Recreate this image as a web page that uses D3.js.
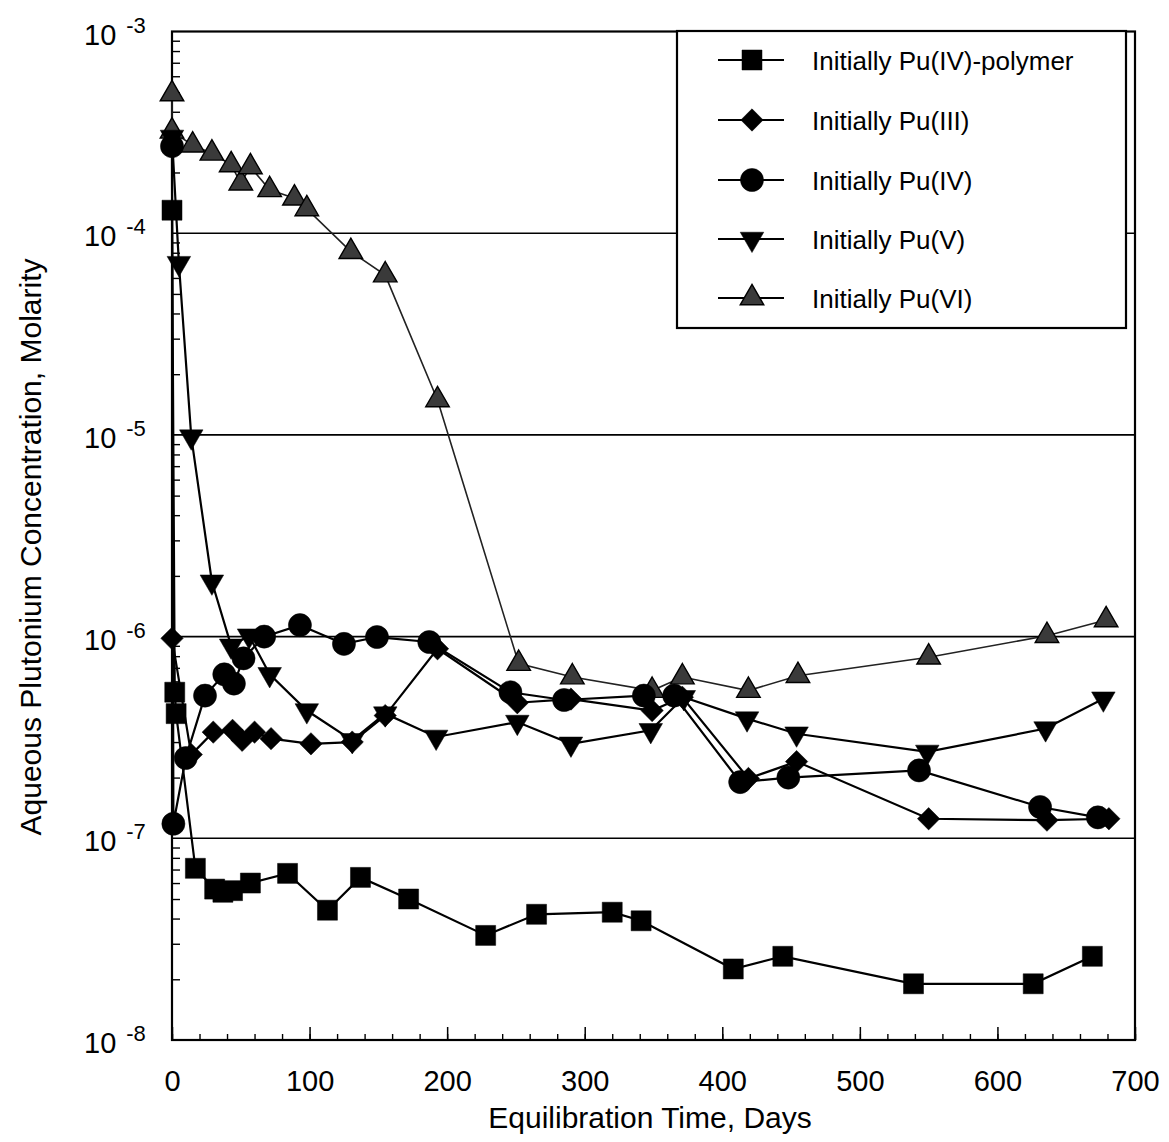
<!DOCTYPE html>
<html><head><meta charset="utf-8">
<script src="https://cdn.jsdelivr.net/npm/d3@7"></script>
<style>body{margin:0;background:#fff}</style>
</head><body>
<svg id="chart" width="1169" height="1142"></svg>
<script>
// ---- Data ----
const seriesNames = ["Initially Pu(IV)-polymer", "Initially Pu(III)", "Initially Pu(IV)", "Initially Pu(V)", "Initially Pu(VI)"];

const polymerDays = [0, 2, 3, 17, 31, 37, 44, 57, 84, 113, 137, 172, 228, 265, 320, 341, 408, 444, 539, 626, 669];
const polymerVals = [1.3e-4, 5.3e-7, 4.15e-7, 7.1e-8, 5.6e-8, 5.4e-8, 5.5e-8, 6.0e-8, 6.7e-8, 4.4e-8, 6.4e-8, 5.0e-8, 3.3e-8, 4.2e-8, 4.3e-8, 3.9e-8, 2.25e-8, 2.6e-8, 1.9e-8, 1.9e-8, 2.6e-8];

const pu3Days = [0, 14, 30, 44, 51, 60, 72, 101, 131, 155, 193, 251, 290, 349, 371, 419, 454, 550, 636, 681];
const pu3Vals = [9.8e-7, 2.6e-7, 3.36e-7, 3.43e-7, 3.06e-7, 3.36e-7, 3.12e-7, 2.94e-7, 3.0e-7, 4.06e-7, 8.7e-7, 4.7e-7, 4.9e-7, 4.3e-7, 5.0e-7, 1.98e-7, 2.4e-7, 1.25e-7, 1.23e-7, 1.25e-7];

const pu4Days = [0, 1, 10, 24, 38, 45, 52, 67, 93, 125, 149, 187, 246, 285, 343, 365, 413, 448, 543, 631, 673];
const pu4Vals = [2.7e-4, 1.18e-7, 2.5e-7, 5.1e-7, 6.5e-7, 5.85e-7, 7.8e-7, 1.0e-6, 1.14e-6, 9.2e-7, 9.95e-7, 9.4e-7, 5.3e-7, 4.85e-7, 5.1e-7, 5.1e-7, 1.9e-7, 2.0e-7, 2.17e-7, 1.43e-7, 1.27e-7];

const pu5Days = [0, 5, 14, 29, 43, 56, 71, 98, 131, 155, 192, 251, 290, 348, 372, 418, 454, 549, 635, 677];
const pu5Vals = [3.0e-4, 7.1e-5, 9.8e-6, 1.87e-6, 9.0e-7, 1.01e-6, 6.5e-7, 4.3e-7, 3.06e-7, 4.15e-7, 3.18e-7, 3.77e-7, 2.94e-7, 3.43e-7, 5.0e-7, 3.92e-7, 3.3e-7, 2.68e-7, 3.5e-7, 4.92e-7];

const pu6Days = [0, 0, 15, 29, 43, 50, 57, 71, 89, 98, 130, 155, 193, 252, 291, 349, 371, 419, 455, 550, 636, 679];
const pu6Vals = [4.9e-4, 3.2e-4, 2.73e-4, 2.49e-4, 2.18e-4, 1.77e-4, 2.13e-4, 1.64e-4, 1.49e-4, 1.32e-4, 8.1e-5, 6.2e-5, 1.49e-5, 7.35e-7, 6.3e-7, 5.4e-7, 6.3e-7, 5.4e-7, 6.4e-7, 7.9e-7, 1.01e-6, 1.21e-6];

const xTickValues = [0, 100, 200, 300, 400, 500, 600, 700];
const yDecadeExponents = [-3, -4, -5, -6, -7, -8];

const xTitle = "Equilibration Time, Days";
const yTitle = "Aqueous Plutonium Concentration, Molarity";

// ---- Setup ----
const svg = d3.select("#chart");
const L = 172, R = 1135, T = 31.5, B = 1040;
const x = d3.scaleLinear().domain([0, 700]).range([L, R]);
const y = d3.scaleLog().domain([1e-8, 1e-3]).range([B, T]);
const FONT = "'Liberation Sans', Arial, Helvetica, sans-serif";

// gridlines at decades
svg.append("g").selectAll("line").data([-4, -5, -6, -7]).join("line")
  .attr("x1", L).attr("x2", R)
  .attr("y1", d => y(Math.pow(10, d))).attr("y2", d => y(Math.pow(10, d)))
  .attr("stroke", "#000").attr("stroke-width", 1.6);

// minor y ticks
const minorY = [];
for (let e = -8; e < -3; e++) for (let k = 2; k <= 9; k++) minorY.push(k * Math.pow(10, e));
const yMinor = svg.append("g").attr("transform", `translate(${L},0)`)
  .call(d3.axisLeft(y).tickValues(minorY).tickSize(-8).tickFormat(""));
yMinor.select(".domain").remove();
yMinor.selectAll("line").attr("stroke", "#000").attr("stroke-width", 1.4);

// x ticks
const xMinor = svg.append("g").attr("transform", `translate(0,${B})`)
  .call(d3.axisBottom(x).tickValues(d3.range(0, 701, 20)).tickSize(-6).tickFormat(""));
xMinor.select(".domain").remove();
xMinor.selectAll("line").attr("stroke", "#000").attr("stroke-width", 1.4);

const xMajor = svg.append("g").attr("transform", `translate(0,${B})`)
  .call(d3.axisBottom(x).tickValues(xTickValues).tickSizeInner(-13).tickSizeOuter(0).tickPadding(30).tickFormat(d3.format("d")));
xMajor.select(".domain").remove();
xMajor.selectAll("line").attr("stroke", "#000").attr("stroke-width", 1.5);
xMajor.selectAll("text").attr("font-family", FONT).attr("font-size", 29).attr("fill", "#000");

// y labels 10^n
const yl = svg.append("g").selectAll("text").data(yDecadeExponents).join("text")
  .attr("x", 84).attr("y", d => y(Math.pow(10, d)) + 13)
  .attr("font-family", FONT).attr("font-size", 29).attr("fill", "#000");
yl.append("tspan").text("10");
yl.append("tspan").attr("dx", 10).attr("dy", -12).attr("font-size", 22).text(d => "-" + (-d));

// frame
svg.append("rect").attr("x", L).attr("y", T).attr("width", R - L).attr("height", B - T)
  .attr("fill", "none").attr("stroke", "#000").attr("stroke-width", 2.2);

// ---- Series ----
const series = [
  { name: seriesNames[0], days: polymerDays, vals: polymerVals, sym: "square" },
  { name: seriesNames[1], days: pu3Days, vals: pu3Vals, sym: "diamond" },
  { name: seriesNames[2], days: pu4Days, vals: pu4Vals, sym: "circle" },
  { name: seriesNames[3], days: pu5Days, vals: pu5Vals, sym: "down" },
  { name: seriesNames[4], days: pu6Days, vals: pu6Vals, sym: "up" }
];

function symPath(s) {
  if (s === "square") return d3.symbol(d3.symbolSquare, 400)();
  if (s === "circle") return d3.symbol(d3.symbolCircle, 420)();
  if (s === "diamond") return d3.symbol(d3.symbolSquare, 250)();
  return d3.symbol(d3.symbolTriangle, 240)();
}
function symRot(s) {
  if (s === "diamond") return " rotate(45)";
  if (s === "down") return " rotate(180)";
  return "";
}
function symFill(s) { return s === "up" ? "#3a3a3a" : "#000"; }

const line = d3.line().x(d => x(d[0])).y(d => y(d[1]));

const drawOrder = [4, 0, 1, 2, 3];
drawOrder.forEach(i => {
  const s = series[i];
  const pts = s.days.map((d, j) => [d, s.vals[j]]);
  svg.append("path").datum(pts).attr("d", line)
    .attr("fill", "none")
    .attr("stroke", s.sym === "up" ? "#222" : "#000")
    .attr("stroke-width", s.sym === "up" ? 1.6 : 2.2);
});
drawOrder.forEach(i => {
  const s = series[i];
  const pts = s.days.map((d, j) => [d, s.vals[j]]);
  svg.append("g").selectAll("path").data(pts).join("path")
    .attr("d", symPath(s.sym))
    .attr("transform", d => `translate(${x(d[0])},${y(d[1])})` + symRot(s.sym))
    .attr("fill", symFill(s.sym))
    .attr("stroke", "#000").attr("stroke-width", s.sym === "up" ? 1.4 : 0.5);
});

// ---- Legend ----
const lg = svg.append("g");
lg.append("rect").attr("x", 677).attr("y", 31).attr("width", 449).attr("height", 297)
  .attr("fill", "#fff").attr("stroke", "#000").attr("stroke-width", 2.2);
const rows = [60, 120, 180, 239, 298];
series.forEach((s, i) => {
  const cy = rows[i];
  lg.append("line").attr("x1", 718).attr("x2", 784).attr("y1", cy).attr("y2", cy)
    .attr("stroke", "#000").attr("stroke-width", 2);
  lg.append("path").attr("d", symPath(s.sym))
    .attr("transform", `translate(752,${cy})` + symRot(s.sym))
    .attr("fill", symFill(s.sym)).attr("stroke", "#000").attr("stroke-width", s.sym === "up" ? 1.4 : 0.5);
  lg.append("text").attr("x", 812).attr("y", cy + 9.5)
    .attr("font-family", FONT).attr("font-size", 26).attr("fill", "#000").text(s.name);
});

// ---- Titles ----
svg.append("text").attr("x", 650).attr("y", 1128).attr("text-anchor", "middle")
  .attr("font-family", FONT).attr("font-size", 30).attr("fill", "#000").text(xTitle);
svg.append("text").attr("transform", "translate(41,547) rotate(-90)").attr("text-anchor", "middle")
  .attr("font-family", FONT).attr("font-size", 30).attr("fill", "#000").text(yTitle);
</script>
</body></html>
